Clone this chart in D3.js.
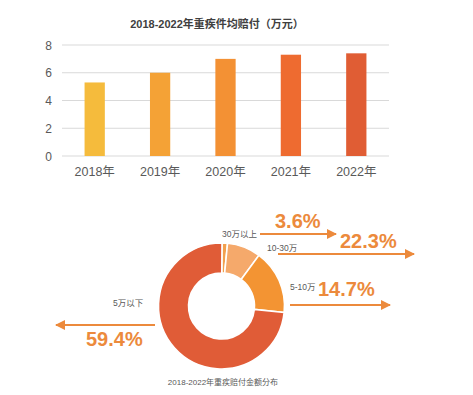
<!DOCTYPE html>
<html>
<head>
<meta charset="utf-8">
<title>重疾赔付</title>
<style>
  body{ margin:0; background:#fff; }
  svg{ display:block; font-family:"Liberation Sans","Noto Sans CJK SC",sans-serif; }
  .grid line{ stroke:#d9d9d9; stroke-width:1px; }
  .tick text{ fill:#595959; }
</style>
<script src="https://cdn.jsdelivr.net/npm/d3@7"></script>
</head>
<body>
<svg width="473" height="395"></svg>
<script>
// bar chart data
const years = ["2018年","2019年","2020年","2021年","2022年"];
const avgPay = [5.3, 6.0, 7.0, 7.3, 7.4];
const barColors = ["#f5bb3c","#f4a236","#f39134","#ee6b30","#e05d34"];
const yTicks = [0, 2, 4, 6, 8];

// donut data (slice sizes as drawn, labels as printed)
const bands = ["30万以上","10-30万","5-10万","5万以下"];
const sliceShare = [1.4, 8.6, 16.5, 73.5];
const pctLabels = ["3.6%","22.3%","14.7%","59.4%"];
const sliceColors = ["#f2a04e","#f5a96b","#f39433","#e05c37"];

const svg = d3.select("svg");
const orange = "#ec8a3c";

// ********* bar chart
const x = d3.scaleBand().domain(years).range([62, 389]).paddingInner(0.69).paddingOuter(0.345);
const y = d3.scaleLinear().domain([0, 8]).range([156, 45]);

svg.append("text")
  .attr("x", 217).attr("y", 28)
  .attr("text-anchor", "middle")
  .style("font-size", "11px").style("font-weight", "bold").style("fill", "#404040")
  .text("2018-2022年重疾件均赔付（万元）");

svg.append("g").attr("class", "grid")
  .selectAll("line").data(yTicks).enter().append("line")
  .attr("x1", 62).attr("x2", 389)
  .attr("y1", d => y(d)).attr("y2", d => y(d));

svg.append("g")
  .selectAll("text").data(yTicks).enter().append("text")
  .attr("x", 52).attr("y", d => y(d) + 4.5)
  .attr("text-anchor", "end")
  .style("font-size", "12px").style("fill", "#595959")
  .text(d => d);

svg.append("g")
  .selectAll("rect").data(avgPay).enter().append("rect")
  .attr("x", (d, i) => x(years[i]))
  .attr("width", x.bandwidth())
  .attr("y", d => y(d))
  .attr("height", d => y(0) - y(d))
  .attr("fill", (d, i) => barColors[i]);

svg.append("g")
  .selectAll("text").data(years).enter().append("text")
  .attr("x", d => x(d) + x.bandwidth() / 2)
  .attr("y", 176)
  .attr("text-anchor", "middle")
  .style("font-size", "12.5px").style("fill", "#595959")
  .text(d => d);

// ********* donut
const cx = 221.5, cy = 306;
const pie = d3.pie().sort(null).startAngle(0.008).endAngle(2 * Math.PI + 0.008);
const arc = d3.arc().innerRadius(33).outerRadius(63);

svg.append("g").attr("transform", `translate(${cx},${cy})`)
  .selectAll("path").data(pie(sliceShare)).enter().append("path")
  .attr("d", arc)
  .attr("fill", (d, i) => sliceColors[i])
  .attr("stroke", "#fff").attr("stroke-width", 1.6);

svg.append("defs").append("marker")
  .attr("id", "head").attr("viewBox", "0 0 10 10")
  .attr("refX", 9).attr("refY", 5)
  .attr("markerWidth", 10).attr("markerHeight", 10)
  .attr("markerUnits", "userSpaceOnUse")
  .attr("orient", "auto")
  .append("path").attr("d", "M0,0 L10,5 L0,10 Z").attr("fill", orange);

// annotation layout, one per band
const notes = [
  {lx: 222, ly: 237, ax1: 260, ax2: 336, ay: 234, px: 275, py: 228},
  {lx: 267, ly: 251, ax1: 278, ax2: 414, ay: 254, px: 340, py: 248},
  {lx: 290, ly: 290, ax1: 290, ax2: 390, ay: 305, px: 318, py: 296},
  {lx: 113, ly: 306, ax1: 155, ax2: 56, ay: 325, px: 86, py: 346}
];

const ann = svg.append("g").selectAll("g").data(notes).enter().append("g");
ann.append("text")
  .attr("x", d => d.lx).attr("y", d => d.ly)
  .style("font-size", "8.5px").style("fill", "#595959")
  .text((d, i) => bands[i]);
ann.append("line")
  .attr("x1", d => d.ax1).attr("x2", d => d.ax2)
  .attr("y1", d => d.ay).attr("y2", d => d.ay)
  .attr("stroke", orange).attr("stroke-width", 2)
  .attr("marker-end", "url(#head)");
ann.append("text")
  .attr("x", d => d.px).attr("y", d => d.py)
  .style("font-size", "20px").style("font-weight", "bold").style("fill", orange)
  .text((d, i) => pctLabels[i]);

svg.append("text")
  .attr("x", 223).attr("y", 385)
  .attr("text-anchor", "middle")
  .style("font-size", "8px").style("fill", "#595959")
  .text("2018-2022年重疾赔付金额分布");
</script>
</body>
</html>
